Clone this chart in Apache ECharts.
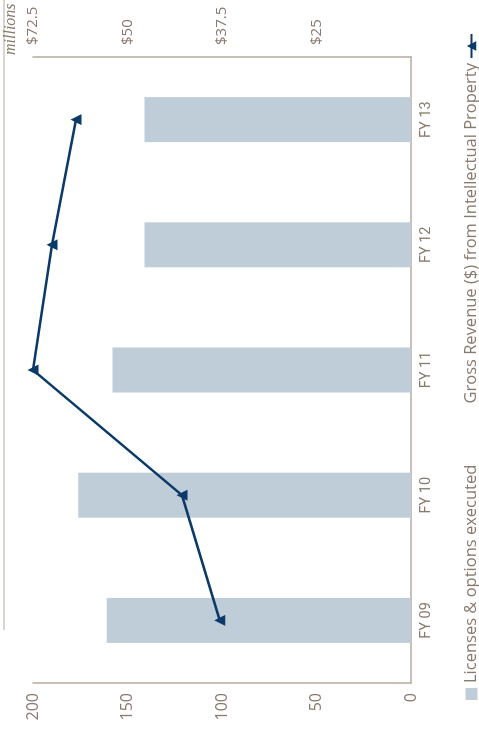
<!DOCTYPE html>
<html>
<head>
<meta charset="utf-8">
<script src="https://cdn.jsdelivr.net/npm/echarts@6/dist/echarts.min.js"></script>
<style>
  html, body { margin: 0; padding: 0; width: 479px; height: 730px; overflow: hidden; background: #ffffff; }
  #wrap { position: absolute; left: 0; top: 0; width: 730px; height: 479px;
          transform-origin: 0 0; transform: translateY(730px) rotate(-90deg); }
</style>
</head>
<body>
<div id="wrap"></div>
<script>
// ---- data ----
const categories = ['FY 09', 'FY 10', 'FY 11', 'FY 12', 'FY 13'];
const licenses = [161, 176, 158, 141, 141];
const grossRevenue = [37.8, 42.8, 62.5, 60.0, 56.8];
const licenseTicks = ['0', '50', '100', '150', '200'];
const revenueTicks = ['', '$25', '$37.5', '$50', '$72.5'];
const barName = 'Licenses & options executed';
const lineName = 'Gross Revenue ($) from Intellectual Property';

const textColor = '#887a6c';
const axisColor = '#b6aa9d';
const barColor = '#bfcdd8';
const lineColor = '#0b3a68';
const sans = "'Open Sans', 'Noto Sans', sans-serif";
const narrow = "Roboto, 'Open Sans', sans-serif";

const chart = echarts.init(document.getElementById('wrap'), null, { renderer: 'canvas' });
chart.setOption({
  animation: false,
  backgroundColor: '#ffffff',
  grid: { left: 47, right: 57, top: 33, bottom: 68, containLabel: false },
  legend: [
    {
      data: [barName], left: 25, top: 458, itemWidth: 12, itemHeight: 12, itemGap: 5,
      icon: 'rect',
      textStyle: { color: textColor, fontSize: 16.5, fontFamily: sans }
    },
    {
      data: [lineName], right: 28, top: 458, align: 'right', itemWidth: 24, itemHeight: 12,
      textStyle: { color: textColor, fontSize: 16.5, fontFamily: sans }
    }
  ],
  graphic: [
    { type: 'line', shape: { x1: 100, y1: 4, x2: 730, y2: 4 },
      style: { stroke: axisColor, lineWidth: 1 } },
    { type: 'text', left: 675, top: 3,
      style: { text: 'millions', fill: textColor, font: "italic 16px 'Liberation Serif', 'DejaVu Serif', serif" } }
  ],
  xAxis: {
    type: 'category', data: categories, boundaryGap: true,
    axisLine: { show: true, lineStyle: { color: axisColor, width: 1.5 } },
    axisTick: { show: false },
    axisLabel: { color: textColor, fontSize: 14.5, fontFamily: narrow, margin: 8 },
    splitLine: { show: false }
  },
  yAxis: [
    {
      type: 'value', min: 0, max: 200, interval: 50,
      axisLine: { show: true, lineStyle: { color: axisColor, width: 1.5 } },
      axisTick: { show: false },
      splitLine: { show: false },
      axisLabel: { color: textColor, fontSize: 16, fontFamily: sans, margin: 10,
        formatter: v => licenseTicks[Math.round(v / 50)] }
    },
    {
      type: 'value', min: 12.5, max: 62.5, interval: 12.5, position: 'right',
      axisLine: { show: true, lineStyle: { color: axisColor, width: 1.5 } },
      axisTick: { show: false },
      splitLine: { show: false },
      axisLabel: { color: textColor, fontSize: 15, fontFamily: sans, margin: 12,
        formatter: v => revenueTicks[Math.round((v - 12.5) / 12.5)] }
    }
  ],
  series: [
    {
      name: barName, type: 'bar', data: licenses, yAxisIndex: 0,
      barWidth: 45, itemStyle: { color: barColor }
    },
    {
      name: lineName, type: 'line', data: grossRevenue, yAxisIndex: 1,
      symbol: 'triangle', symbolSize: 11, z: 5,
      lineStyle: { color: lineColor, width: 2.5 },
      itemStyle: { color: lineColor }
    }
  ]
});
</script>
</body>
</html>
